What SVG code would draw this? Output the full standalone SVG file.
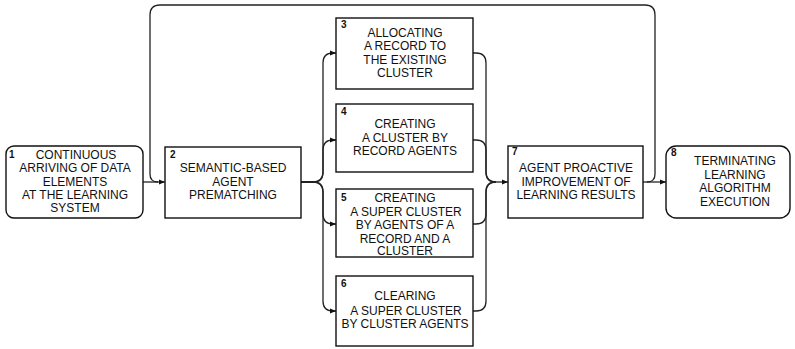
<svg xmlns="http://www.w3.org/2000/svg" width="795" height="349" viewBox="0 0 795 349">
  <style>
    .box { fill: #fff; stroke: #111; stroke-width: 1.4; }
    .lbl { font-family: "Liberation Sans", Arial, sans-serif; font-size: 12px; fill: #111; text-anchor: middle; }
    .num { font-family: "Liberation Sans", Arial, sans-serif; font-size: 10px; font-weight: bold; fill: #111; }
    .wire { fill: none; stroke: #222; stroke-width: 1.3; }
  </style>
  <defs>
    <marker id="ah" viewBox="0 0 6 6" refX="6" refY="3" markerWidth="6" markerHeight="6" markerUnits="userSpaceOnUse" orient="auto">
      <path d="M0,0.6 L6,3 L0,5.4 z" fill="#111"/>
    </marker>
  </defs>
  <rect width="795" height="349" fill="#fff"/>

  <g id="connectors">
    <!-- 1 -> 2 -->
    <path class="wire" d="M143,182 H165" marker-end="url(#ah)"/>
    <!-- outer bypass loop -->
    <path class="wire" d="M158,182 Q150,182 150,174 V15 Q150,5 160,5 H645 Q655,5 655,15 V174 Q655,182 647,182"/>
    <!-- 2 -> 3..6 -->
    <path class="wire" d="M301,182 H313 Q323,182 323,172 V63 Q323,53 333,53 H336" marker-end="url(#ah)"/>
    <path class="wire" d="M301,182 H313 Q323,182 323,172 V150 Q323,140 333,140 H336" marker-end="url(#ah)"/>
    <path class="wire" d="M301,182 H313 Q323,182 323,192 V214 Q323,224 333,224 H336" marker-end="url(#ah)"/>
    <path class="wire" d="M301,182 H313 Q323,182 323,192 V301 Q323,311 333,311 H336" marker-end="url(#ah)"/>
    <!-- 3..6 -> 7 -->
    <path class="wire" d="M473,53 H476 Q486,53 486,63 V172 Q486,182 496,182"/>
    <path class="wire" d="M473,140 H476 Q486,140 486,150 V172 Q486,182 496,182"/>
    <path class="wire" d="M473,224 H476 Q486,224 486,214 V192 Q486,182 496,182"/>
    <path class="wire" d="M473,311 H476 Q486,311 486,301 V192 Q486,182 496,182"/>
    <path class="wire" d="M496,182 H508" marker-end="url(#ah)"/>
    <!-- 7 -> 8 -->
    <path class="wire" d="M643,182 H666" marker-end="url(#ah)"/>
  </g>

  <g id="node1">
    <rect class="box" x="6" y="146" width="137" height="72" rx="8"/>
    <text class="num" x="9" y="158">1</text>
    <text class="lbl" x="76" y="159">CONTINUOUS</text>
    <text class="lbl" x="75" y="172">ARRIVING OF DATA</text>
    <text class="lbl" x="75" y="185.5">ELEMENTS</text>
    <text class="lbl" x="75" y="199">AT THE LEARNING</text>
    <text class="lbl" x="75" y="212">SYSTEM</text>
  </g>

  <g id="node2">
    <rect class="box" x="165" y="147" width="136" height="71"/>
    <text class="num" x="170" y="158">2</text>
    <text class="lbl" x="233" y="172">SEMANTIC-BASED</text>
    <text class="lbl" x="233" y="185.5">AGENT</text>
    <text class="lbl" x="233" y="199">PREMATCHING</text>
  </g>

  <g id="node3">
    <rect class="box" x="336" y="18" width="137" height="71"/>
    <text class="num" x="341" y="28">3</text>
    <text class="lbl" x="405" y="37">ALLOCATING</text>
    <text class="lbl" x="405" y="50">A RECORD TO</text>
    <text class="lbl" x="405" y="63.5">THE EXISTING</text>
    <text class="lbl" x="405" y="77">CLUSTER</text>
  </g>

  <g id="node4">
    <rect class="box" x="336" y="104" width="137" height="68"/>
    <text class="num" x="341" y="115">4</text>
    <text class="lbl" x="405" y="128">CREATING</text>
    <text class="lbl" x="405" y="141.5">A CLUSTER BY</text>
    <text class="lbl" x="405" y="155">RECORD AGENTS</text>
  </g>

  <g id="node5">
    <rect class="box" x="336" y="189" width="137" height="68"/>
    <text class="num" x="341" y="201">5</text>
    <text class="lbl" x="405" y="202">CREATING</text>
    <text class="lbl" x="406" y="215.5">A SUPER CLUSTER</text>
    <text class="lbl" x="405" y="229">BY AGENTS OF A</text>
    <text class="lbl" x="405" y="242.5">RECORD AND A</text>
    <text class="lbl" x="405" y="255">CLUSTER</text>
  </g>

  <g id="node6">
    <rect class="box" x="336" y="276" width="137" height="70"/>
    <text class="num" x="341" y="287">6</text>
    <text class="lbl" x="405" y="300">CLEARING</text>
    <text class="lbl" x="406" y="314.5">A SUPER CLUSTER</text>
    <text class="lbl" x="405" y="328">BY CLUSTER AGENTS</text>
  </g>

  <g id="node7">
    <rect class="box" x="508" y="146" width="135" height="72"/>
    <text class="num" x="512" y="155">7</text>
    <text class="lbl" x="576" y="172">AGENT PROACTIVE</text>
    <text class="lbl" x="576" y="185.5">IMPROVEMENT OF</text>
    <text class="lbl" x="576" y="199">LEARNING RESULTS</text>
  </g>

  <g id="node8">
    <rect class="box" x="666" y="146" width="124" height="72" rx="10"/>
    <text class="num" x="671" y="156">8</text>
    <text class="lbl" x="735" y="165">TERMINATING</text>
    <text class="lbl" x="735" y="178.5">LEARNING</text>
    <text class="lbl" x="735" y="192">ALGORITHM</text>
    <text class="lbl" x="735" y="205.5">EXECUTION</text>
  </g>
</svg>
